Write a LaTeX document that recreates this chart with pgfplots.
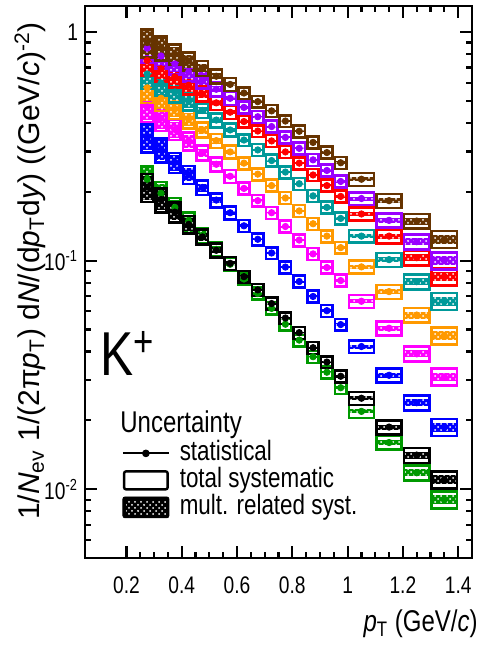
\documentclass[border=0pt]{standalone}
\usepackage{fontspec}
\setmainfont{Liberation Sans}[FakeStretch=0.8]
\newfontfamily\ylfont{Liberation Sans}
\usepackage{pgfplots}
\pgfplotsset{compat=1.18}
\usepackage{pgfplotstable}
\usetikzlibrary{patterns}

\definecolor{cbr}{RGB}{102,51,0}
\definecolor{cpu}{RGB}{153,0,255}
\definecolor{cre}{RGB}{255,0,0}
\definecolor{cte}{RGB}{0,153,153}
\definecolor{cor}{RGB}{255,153,0}
\definecolor{cma}{RGB}{255,0,255}
\definecolor{cbl}{RGB}{0,0,255}
\definecolor{cbk}{RGB}{0,0,0}
\definecolor{cgr}{RGB}{0,153,0}

% x: bin centre, w: half width, s: total syst (rel), m: mult. syst (rel)
\pgfplotstableread{
x     w     s     m     br    pu    re    te     or     ma     bl     bk     gr
0.275 0.025 0.14  0.12  0.900 0.850 0.750 0.655  0.570  0.470  0.345  0.210  0.227
0.325 0.025 0.12  0.10  0.852 0.786 0.691 0.598  0.513  0.420  0.305  0.185  0.197
0.375 0.025 0.10  0.08  0.800 0.725 0.637 0.547  0.462  0.375  0.269  0.163  0.171
0.425 0.025 0.09  0.065 0.748 0.668 0.585 0.499  0.416  0.334  0.238  0.144  0.149
0.475 0.025 0.075 0.04  0.694 0.614 0.536 0.454  0.373  0.297  0.209  0.127  0.129
0.525 0.025 0.07  0.03  0.641 0.562 0.490 0.412  0.335  0.264  0.184  0.111  0.112
0.575 0.025 0.065 0.02  0.590 0.513 0.446 0.373  0.299  0.234  0.162  0.0973 0.0964
0.625 0.025 0.06  0.015 0.541 0.468 0.406 0.337  0.267  0.207  0.142  0.0851 0.0831
0.675 0.025 0.06  0.012 0.496 0.426 0.369 0.305  0.239  0.183  0.124  0.0745 0.0718
0.725 0.025 0.06  0.01  0.452 0.386 0.334 0.274  0.213  0.162  0.108  0.0649 0.0618
0.775 0.025 0.06  0.01  0.408 0.346 0.299 0.244  0.188  0.141  0.0937 0.0561 0.0527
0.825 0.025 0.06  0.01  0.368 0.310 0.267 0.217  0.165  0.123  0.0810 0.0484 0.0449
0.875 0.025 0.06  0.01  0.329 0.276 0.237 0.192  0.145  0.107  0.0697 0.0416 0.0380
0.925 0.025 0.06  0.012 0.297 0.248 0.213 0.171  0.128  0.0933 0.0604 0.0360 0.0325
0.975 0.025 0.06  0.015 0.268 0.222 0.191 0.153  0.114  0.0818 0.0525 0.0312 0.0278
1.05  0.05  0.065 0.02  0.227 0.187 0.160 0.128  0.0939 0.0664 0.0421 0.0250 0.0219
1.15  0.05  0.07  0.025 0.183 0.150 0.128 0.101  0.0732 0.0506 0.0315 0.0187 0.0160
1.25  0.05  0.075 0.035 0.149 0.121 0.103 0.0809 0.0578 0.0391 0.0239 0.0141 0.0118
1.35  0.05  0.085 0.045 0.124 0.100 0.085 0.0665 0.0470 0.0310 0.0187 0.0110 0.0090
}\spectra

% box of one bin: patterned mult. syst. band, then total syst. outline
\pgfdeclareplotmark{sysbox}{%
  \pgfpathrectanglecorners{\pgfqpoint{-\bxw pt}{\mxb pt}}{\pgfqpoint{\bxw pt}{\mxt pt}}%
  \pgfusepathqfill
  \pgfsetfillpattern{crosshatch dots}{white}%
  \pgfpathrectanglecorners{\pgfqpoint{-\bxw pt}{\mxb pt}}{\pgfqpoint{\bxw pt}{\mxt pt}}%
  \pgfusepathqfill
  \pgfpathrectanglecorners{\pgfqpoint{-\bxw pt}{\bxb pt}}{\pgfqpoint{\bxw pt}{\bxt pt}}%
  \pgfusepathqstroke
}

% 138.214 pt per GeV/c along x, 49.634 pt per unit of ln(y)
\pgfplotsset{
  sysboxes/.style={forget plot, only marks, scatter, mark=sysbox, line width=1.3pt,
    scatter/@pre marker code/.code={\pgfscope},
    scatter/@post marker code/.code={\endpgfscope},
    visualization depends on={\thisrow{w}*138.214-0.6 \as \bxw},
    visualization depends on={ln(1+\thisrow{s})*49.634 \as \bxt},
    visualization depends on={ln(1-\thisrow{s})*49.634 \as \bxb},
    visualization depends on={ln(1+\thisrow{m})*49.634 \as \mxt},
    visualization depends on={ln(1-\thisrow{m})*49.634 \as \mxb}},
  statpts/.style={forget plot, only marks, mark=*, mark size=1.6pt,
    error bars/.cd, x dir=both, x explicit, error mark=none,
    error bar style={line width=0.8pt, solid}},
}

\begin{document}
\begin{tikzpicture}
\useasboundingbox (0,0) rectangle (240.5pt,324.5pt);
\begin{axis}[
  at={(42.5pt,45.5pt)}, anchor=south west,
  scale only axis, width=193.5pt, height=276pt,
  xmin=0.05, xmax=1.45, ymin=0.005, ymax=1.3,
  ymode=log,
  xtick={0.2,0.4,0.6,0.8,1,1.2,1.4},
  xticklabels={0.2,0.4,0.6,0.8,1,1.2,1.4},
  minor x tick num=3,
  ytick={0.01,0.1,1},
  yticklabels={10\textsuperscript{-2},10\textsuperscript{-1},1},
  minor ytick={0.005,0.006,0.007,0.008,0.009,0.02,0.03,0.04,0.05,0.06,0.07,0.08,0.09,0.2,0.3,0.4,0.5,0.6,0.7,0.8,0.9},
  tick align=inside,
  major tick length=6pt, minor tick length=3pt,
  tick style={black, line width=1.1pt},
  axis line style={line width=1.4pt},
  tick label style={font=\fontsize{12}{12}\selectfont},
  xticklabel style={yshift=-6pt},
  xlabel={\textit{p}\textsubscript{T} (GeV/\textit{c})},
  xlabel style={at={(rel axis cs:1.0155,-0.134)}, anchor=base east,
    font=\fontsize{15}{15}\selectfont, inner sep=0pt},
  ylabel={1/\textit{N}\textsubscript{ev} 1/(2π\textit{p}\textsubscript{T}) d\textit{N}/(d\textit{p}\textsubscript{T}d\textit{y}) ((GeV/\textit{c})\textsuperscript{-2})},
  ylabel style={at={(rel axis cs:-0.142,0.52)}, anchor=center,
    font=\ylfont\fontsize{15}{15}\selectfont, inner sep=0pt},
  legend style={at={(rel axis cs:0.0956,0.214)}, anchor=north west,
    draw=none, fill=none, inner sep=0pt, outer sep=0pt,
    row sep=0pt, column sep=5pt, font=\fontsize{14}{14}\selectfont,
    nodes={inner sep=0pt, text height=10.5pt, text depth=3pt}},
  legend cell align=left,
]
\pgfplotsinvokeforeach{gr,bk,bl,ma,or,te,re,pu,br}{
  \addplot[c#1, sysboxes] table[x=x, y=#1] {\spectra};
}
\pgfplotsinvokeforeach{gr,bk,bl,ma,or,te,re,pu,br}{
  \addplot[c#1, statpts] table[x=x, y=#1, x error=w] {\spectra};
}

\addlegendimage{legend image code/.code={
  \draw[black, line width=0.9pt] (0pt,0pt) -- (23pt,0pt);
  \fill[black] (11.5pt,0pt) circle (1.7pt);}}
\addlegendentry{statistical}
\addlegendimage{legend image code/.code={
  \draw[black, line width=1.2pt, rounded corners=1pt] (0.6pt,-4.5pt) rectangle (22.4pt,4.5pt);}}
\addlegendentry{total systematic}
\addlegendimage{legend image code/.code={
  \fill[black, rounded corners=1pt] (0pt,-5.2pt) rectangle (23pt,5.2pt);
  \fill[pattern=crosshatch dots, pattern color=white] (1.2pt,-4pt) rectangle (21.8pt,4pt);}}
\addlegendentry{mult. related syst.}

\node[anchor=base west, font=\fontsize{15}{15}\selectfont, inner sep=0pt]
  at (rel axis cs:0.0904,0.228) {Uncertainty};
\node[anchor=base west, font=\fontsize{31}{31}\selectfont, inner sep=0pt]
  at (rel axis cs:0.039,0.3315) {K\textsuperscript{+}};
\end{axis}
\end{tikzpicture}
\end{document}
